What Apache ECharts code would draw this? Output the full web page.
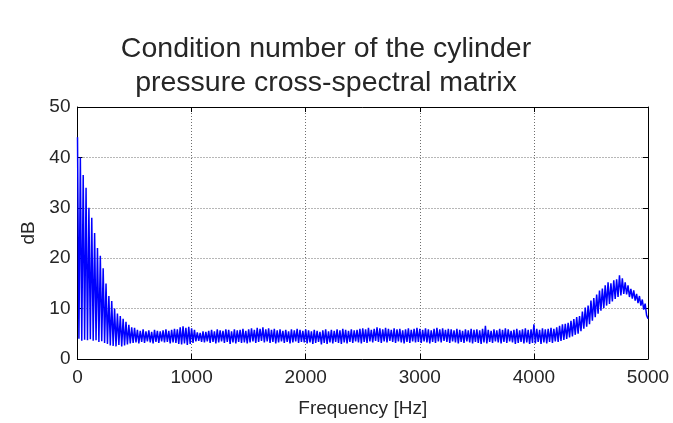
<!DOCTYPE html>
<html>
<head>
<meta charset="utf-8">
<script src="https://cdn.jsdelivr.net/npm/echarts@6/dist/echarts.min.js"></script>
<style>
  html, body { margin: 0; padding: 0; background: #fff; }
  #chart { width: 673px; height: 423px; }
</style>
</head>
<body>
<div id="chart"></div>
<script>
// Frequency axis ticks [Hz] and level axis ticks [dB]
const freqTicks = [0, 1000, 2000, 3000, 4000, 5000];
const dbTicks = [0, 10, 20, 30, 40, 50];

// Spectral line resolution: local maxima every 25 Hz, local minima halfway between
const peakStep = 25;

// Local maxima of the condition number [dB] at 0, 25, 50 ... 5000 Hz
const peaks = [
  44, 40, 36.5, 34, 30, 28, 25, 22, 20.5, 18, 15, 12.5, 11.5, 10, 9, 8.5, 8, 7.4, 6.8, 6.3,
  6.2, 5.8, 5.6, 5.9, 5.5, 5.7, 5.4, 5.8, 5.6, 5.5, 5.7, 5.9, 5.6, 5.8, 6.0, 5.9, 6.3, 6.5, 6.2, 6.4,
  6.1, 5.8, 5.3, 5.2, 5.5, 5.4, 5.6, 5.8, 5.5, 5.9, 5.7, 5.6, 5.9, 5.8, 5.5, 5.9, 5.7, 5.8, 6.0, 5.6,
  5.9, 6.1, 5.8, 6.2, 6.0, 6.3, 5.9, 6.1, 5.8, 6.0, 5.7, 5.9, 5.6, 5.8, 5.5, 5.9, 5.7, 6.0, 5.8, 5.6,
  5.9, 5.7, 5.5, 5.8, 5.6, 5.4, 5.7, 5.9, 5.5, 5.8, 5.6, 5.9, 5.7, 6.0, 5.8, 5.6, 5.9, 5.7, 5.8, 6.0,
  6.1, 5.9, 6.2, 5.8, 6.0, 6.3, 6.1, 5.9, 6.2, 6.0, 5.8, 6.1, 5.9, 6.0, 5.7, 5.9, 6.1, 5.8, 6.0, 6.2,
  6.0, 5.8, 6.1, 5.9, 5.7, 6.0, 6.2, 5.9, 6.1, 5.8, 6.0, 5.9, 5.7, 6.0, 5.8, 5.6, 5.9, 5.7, 6.0, 5.8,
  5.9, 5.7, 6.0, 6.6, 5.8, 5.6, 5.9, 5.7, 6.0, 5.8, 6.1, 5.9, 5.6, 5.8, 6.0, 5.7, 5.9, 6.1, 5.8, 5.9,
  6.9, 6.0, 5.8, 6.1, 5.9, 6.0, 6.2, 6.0, 6.3, 6.6, 6.9, 7.0, 7.2, 7.6, 7.9, 8.3, 8.5, 9.4, 10.2, 10.6,
  11.6, 12.1, 12.8, 13.6, 14.0, 14.6, 15.2, 15.0, 15.6, 15.8, 16.6, 16.0, 15.2, 14.6, 13.9, 13.6, 12.9, 12.5, 11.8, 11.0,
  8.0
];

// Local minima of the condition number [dB] at 12.5, 37.5 ... 4987.5 Hz
const troughs = [
  4.0, 3.6, 3.8, 3.7, 3.9, 3.6, 3.7, 3.4, 3.5, 3.2, 3.0, 2.7, 2.6, 2.5, 2.8, 2.5, 2.7, 2.9, 3.1, 3.2,
  3.3, 3.1, 3.4, 3.2, 3.5, 3.3, 3.1, 3.4, 3.2, 3.5, 3.3, 3.4, 3.1, 3.3, 3.2, 3.0, 2.9, 3.1, 2.8, 3.0,
  3.2, 3.5, 3.6, 3.4, 3.3, 3.5, 3.2, 3.4, 3.1, 3.3, 3.5, 3.2, 3.4, 3.0, 3.3, 3.1, 3.4, 3.2, 3.3, 3.1,
  3.3, 3.5, 3.2, 3.4, 3.6, 3.3, 3.5, 3.2, 3.4, 3.1, 3.3, 3.5, 3.2, 3.4, 3.1, 3.3, 3.5, 3.2, 3.4, 3.3,
  3.1, 3.3, 3.0, 3.2, 3.4, 2.9, 3.2, 3.0, 3.3, 3.1, 3.4, 3.2, 3.0, 3.3, 3.1, 3.4, 3.2, 3.5, 3.3, 3.1,
  3.4, 3.2, 3.5, 3.3, 3.6, 3.4, 3.2, 3.5, 3.3, 3.6, 3.4, 3.2, 3.5, 3.3, 3.1, 3.4, 3.2, 3.5, 3.3, 3.4,
  3.2, 3.5, 3.3, 3.1, 3.4, 3.2, 3.5, 3.3, 3.6, 3.4, 3.2, 3.5, 3.3, 3.1, 3.4, 3.2, 3.5, 3.3, 3.1, 3.4,
  3.2, 3.0, 3.3, 3.1, 3.4, 3.2, 3.5, 3.3, 3.1, 3.4, 3.2, 3.5, 3.3, 3.0, 3.2, 3.4, 3.1, 3.3, 3.0, 3.2,
  3.1, 3.4, 3.0, 3.3, 3.1, 3.4, 3.2, 3.5, 3.4, 3.6, 3.8, 4.0, 4.3, 4.5, 4.8, 5.0, 5.5, 6.0, 6.4, 6.9,
  7.6, 8.3, 9.0, 9.6, 10.1, 10.6, 10.9, 11.4, 11.9, 12.3, 12.6, 12.9, 12.8, 12.3, 12.0, 11.6, 11.1, 10.6, 9.8, 8.7
];

// Interleave maxima and minima into one frequency-ordered trace
const trace = [];
for (let k = 0; k < peaks.length; k++) {
  trace.push([k * peakStep, peaks[k]]);
  if (k < troughs.length) trace.push([k * peakStep + peakStep / 2, troughs[k]]);
}

const FONT = '"Liberation Sans", Arial, sans-serif';
const TXT = '#262626';

const freqMin = freqTicks[0], freqMax = freqTicks[freqTicks.length - 1];
const freqStep = freqTicks[1] - freqTicks[0];
const dbMin = dbTicks[0], dbMax = dbTicks[dbTicks.length - 1];
const dbStep = dbTicks[1] - dbTicks[0];

const boxLine = { show: true, onZero: false, lineStyle: { color: '#000', width: 1 } };
const innerTick = { show: true, inside: true, length: 5, lineStyle: { color: '#000', width: 1 } };
const gridLine = { show: true, lineStyle: { color: '#6e6e6e', width: 1, type: [1, 2] } };
const plain = v => String(v);

const chart = echarts.init(document.getElementById('chart'), null, { renderer: 'canvas' });
chart.setOption({
  animation: false,
  backgroundColor: '#fff',
  title: {
    text: 'Condition number of the cylinder\npressure cross-spectral matrix',
    left: 321,
    textAlign: 'center',
    top: 27,
    textStyle: { fontFamily: FONT, fontSize: 28.5, fontWeight: 'normal', color: TXT, lineHeight: 34 }
  },
  grid: { left: 77.5, right: 25, top: 107, bottom: 60.5, containLabel: false },
  xAxis: [
    {
      type: 'value', min: freqMin, max: freqMax, interval: freqStep,
      name: 'Frequency [Hz]', nameLocation: 'middle', nameGap: 40,
      nameTextStyle: { fontFamily: FONT, fontSize: 19, color: TXT },
      axisLine: boxLine, axisTick: innerTick, splitLine: gridLine,
      axisLabel: { fontFamily: FONT, fontSize: 19, color: TXT, margin: 9, formatter: plain }
    },
    {
      type: 'value', position: 'top', min: freqMin, max: freqMax, interval: freqStep,
      axisLine: boxLine, axisTick: innerTick, splitLine: { show: false },
      axisLabel: { show: false }
    }
  ],
  yAxis: [
    {
      type: 'value', min: dbMin, max: dbMax, interval: dbStep,
      name: 'dB', nameLocation: 'middle', nameGap: 28, nameRotate: 90,
      nameTextStyle: { fontFamily: FONT, fontSize: 19, color: TXT },
      axisLine: boxLine, axisTick: innerTick, splitLine: gridLine,
      axisLabel: { fontFamily: FONT, fontSize: 19, color: TXT, margin: 7, formatter: plain }
    },
    {
      type: 'value', position: 'right', min: dbMin, max: dbMax, interval: dbStep,
      axisLine: boxLine, axisTick: innerTick, splitLine: { show: false },
      axisLabel: { show: false }
    }
  ],
  series: [{
    type: 'line',
    data: trace,
    showSymbol: false,
    sampling: null,
    clip: true,
    lineStyle: { color: '#0000ff', width: 1.5 },
    itemStyle: { color: '#0000ff' },
    z: 3
  }]
});
</script>
</body>
</html>
